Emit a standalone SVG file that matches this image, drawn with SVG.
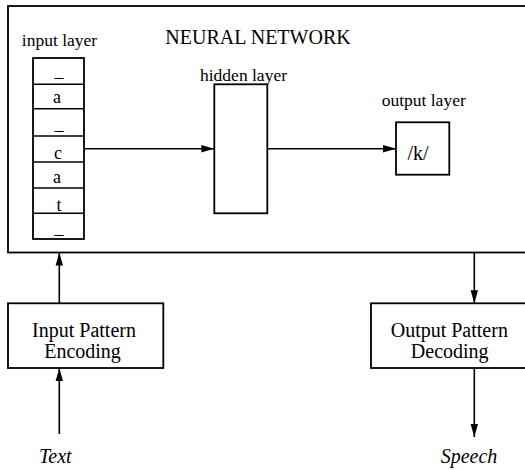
<svg xmlns="http://www.w3.org/2000/svg" width="525" height="470" viewBox="0 0 525 470">
<style>
.box{fill:#fff;stroke:#000;stroke-width:1.8}
.ln{fill:none;stroke:#000;stroke-width:1.6}
text{font-family:"Liberation Serif","Times New Roman",serif;fill:#000;text-anchor:middle}
.t20{font-size:20px}
.t17{font-size:17.5px}
.t18{font-size:18px}
.it{font-style:italic;font-size:20px}
</style>
<defs>
<marker id="ah" markerUnits="userSpaceOnUse" markerWidth="14" markerHeight="8" refX="13" refY="4" orient="auto">
<path d="M0,0.3 L13,4 L0,7.7 Z" fill="#000"/>
</marker>
</defs>
<g id="neural-network">
<rect class="box" x="8" y="6" width="530" height="246.5"/>
<text class="t20" x="258" y="44">NEURAL NETWORK</text>
</g>
<g id="input-layer">
<text class="t17" x="59.5" y="46">input layer</text>
<rect class="box" x="33" y="58" width="51" height="181"/>
<line class="ln" x1="33" y1="84.3" x2="84" y2="84.3"/>
<line class="ln" x1="33" y1="108.7" x2="84" y2="108.7"/>
<line class="ln" x1="33" y1="136" x2="84" y2="136"/>
<line class="ln" x1="33" y1="162" x2="84" y2="162"/>
<line class="ln" x1="33" y1="188" x2="84" y2="188"/>
<line class="ln" x1="33" y1="213.3" x2="84" y2="213.3"/>
<text class="t18" x="59" y="77">_</text>
<text class="t18" x="57" y="103">a</text>
<text class="t18" x="59" y="130">_</text>
<text class="t18" x="58" y="159">c</text>
<text class="t18" x="57" y="183">a</text>
<text class="t18" x="59" y="211">t</text>
<text class="t18" x="59" y="234">_</text>
</g>
<g id="hidden-layer">
<text class="t17" x="243.5" y="81">hidden layer</text>
<rect class="box" x="214.3" y="84.3" width="53" height="129"/>
</g>
<g id="output-layer">
<text class="t17" x="423.7" y="106">output layer</text>
<rect class="box" x="396" y="122.3" width="53.3" height="52.4"/>
<text class="t20" x="418" y="160">/k/</text>
</g>
<g id="input-encoding">
<rect class="box" x="8" y="303.3" width="155.3" height="64.7"/>
<text class="t20" x="84" y="336.5">Input Pattern</text>
<text class="t20" x="82.5" y="358">Encoding</text>
</g>
<g id="output-decoding">
<rect class="box" x="371" y="303.3" width="170" height="64.7"/>
<text class="t20" x="449.3" y="336.5">Output Pattern</text>
<text class="t20" x="449.7" y="358">Decoding</text>
</g>
<g id="text-label"><text class="it" x="55.3" y="463">Text</text></g>
<g id="speech-label"><text class="it" x="469" y="463">Speech</text></g>
<g id="connectors">
<line class="ln" x1="84" y1="148.7" x2="214.3" y2="148.7" marker-end="url(#ah)"/>
<line class="ln" x1="267.3" y1="148.7" x2="396" y2="148.7" marker-end="url(#ah)"/>
<line class="ln" x1="59.3" y1="303.3" x2="59.3" y2="252.5" marker-end="url(#ah)"/>
<line class="ln" x1="59.3" y1="434" x2="59.3" y2="368" marker-end="url(#ah)"/>
<line class="ln" x1="474.3" y1="252.5" x2="474.3" y2="303.3" marker-end="url(#ah)"/>
<line class="ln" x1="474.3" y1="368" x2="474.3" y2="437" marker-end="url(#ah)"/>
</g>
</svg>
